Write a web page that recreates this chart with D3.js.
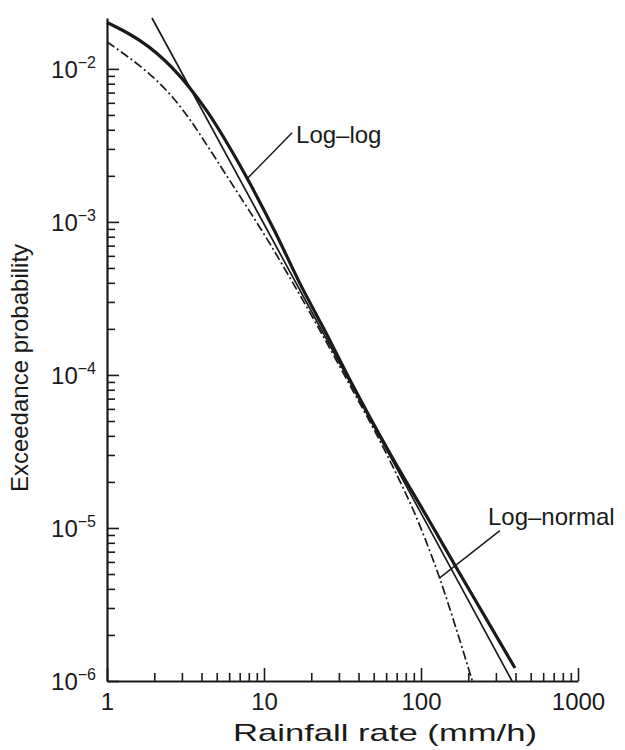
<!DOCTYPE html>
<html><head><meta charset="utf-8">
<script src="https://cdn.jsdelivr.net/npm/d3@7"></script>
<style>
body{margin:0;background:#fff}
svg{display:block}
text{font-family:"Liberation Sans",Arial,Helvetica,sans-serif;fill:#1a1a1a}
</style>
</head><body>
<svg id="chart" width="625" height="750"></svg>
<script>
// ---- data ----
// thick solid curve
const thickRate = [1.0, 1.2643, 1.6228, 2.0822, 2.633, 3.379, 4.3352, 6.0735, 8.1441, 11.752, 16.959, 24.465, 35.30, 63.47, 114.1, 177.2, 396.9];
const thickProb = [0.02009, 0.01781, 0.01528, 0.01260, 0.01003, 7.48e-3, 5.29e-3, 3.041e-3, 1.780e-3, 8.62e-4, 3.95e-4, 1.937e-4, 9.27e-5, 3.067e-5, 1.094e-5, 5.00e-6, 1.216e-6];
// thin solid curve
const thinRate = [1.934, 10, 100, 380];
const thinProb = [0.0215, 9.69e-4, 1.25e-5, 1.0e-6];
// dash-dot curve (log-normal)
const lognRate = [1.0, 1.2643, 1.6228, 2.0822, 2.633, 3.379, 4.399, 6.0735, 8.1441, 10.92, 14.64, 21.44, 33.79, 59.25, 73.3, 88.7, 105.7, 131.4, 166.3, 212.3];
const lognProb = [0.01499, 0.01266, 0.01043, 8.35e-3, 6.48e-3, 4.65e-3, 3.096e-3, 1.853e-3, 1.163e-3, 7.18e-4, 4.31e-4, 2.17e-4, 9.27e-5, 3.16e-5, 2.027e-5, 1.33e-5, 8.60e-6, 4.71e-6, 2.25e-6, 1.0e-6];

// ticks
const xMajorTicks = [1, 10, 100, 1000];
const xMajorLabels = ["1", "10", "100", "1000"];
const xMinorTicks = [2,3,4,5,6,7,8,9,20,30,40,50,60,70,80,90,200,300,400,500,600,700,800,900];
const yMajorTicks = [1e-2, 1e-3, 1e-4, 1e-5, 1e-6];
const yMajorExponents = ["\u22122", "\u22123", "\u22124", "\u22125", "\u22126"];
const yMinorTicks = [9e-3,8e-3,7e-3,6e-3,5e-3,4e-3,3e-3,2e-3,
                     9e-4,8e-4,7e-4,6e-4,5e-4,4e-4,3e-4,2e-4,
                     9e-5,8e-5,7e-5,6e-5,5e-5,4e-5,3e-5,2e-5,
                     9e-6,8e-6,7e-6,6e-6,5e-6,4e-6,3e-6,2e-6];

// annotations
const annotLabels = ["Log\u2013log", "Log\u2013normal"];
const annotLabelRate = [16.0, 267];
const annotLabelProb = [3.28e-3, 1.05e-5];
const annotFromRate = [7.75, 131];
const annotFromProb = [1.9e-3, 4.7e-6];
const annotToRate = [15.1, 318];
const annotToProb = [3.82e-3, 9.6e-6];

const xTitle = "Rainfall rate (mm/h)";
const yTitle = "Exceedance probability";

// ---- drawing ----
const ink = "#1a1a1a";
const svg = d3.select("#chart");
const x = d3.scaleLog().domain([1, 1000]).range([107, 578]);
const y = d3.scaleLog().domain([1e-6, 0.0215]).range([681, 18]);
const x0 = x(1), yBase = y(1e-6);

// y minor ticks
const gyMin = svg.append("g").attr("transform", `translate(${x0},0)`)
  .call(d3.axisLeft(y).tickValues(yMinorTicks).tickSizeInner(-8).tickSizeOuter(0).tickFormat(() => ""));
gyMin.select(".domain").remove();
// y major
const gy = svg.append("g").attr("transform", `translate(${x0},0)`)
  .call(d3.axisLeft(y).tickValues(yMajorTicks).tickSizeInner(-12).tickSizeOuter(0).tickPadding(11).tickFormat(() => ""));
gy.selectAll(".tick text").each(function(d, i) {
  const t = d3.select(this).attr("font-size", 24).attr("dy", "0.35em").attr("fill", ink);
  t.append("tspan").text("10");
  t.append("tspan").attr("dy", -10).attr("font-size", 16).text(yMajorExponents[i]);
});

// x minor
const gxMin = svg.append("g").attr("transform", `translate(0,${yBase})`)
  .call(d3.axisBottom(x).tickValues(xMinorTicks).tickSizeInner(-8).tickSizeOuter(0).tickFormat(() => ""));
gxMin.select(".domain").remove();
// x major
const gx = svg.append("g").attr("transform", `translate(0,${yBase})`)
  .call(d3.axisBottom(x).tickValues(xMajorTicks).tickSizeInner(-13).tickSizeOuter(0).tickPadding(12)
    .tickFormat((d, i) => xMajorLabels[i]));
gx.selectAll(".tick text").attr("font-size", 24).attr("fill", ink);

svg.selectAll(".domain").attr("stroke", ink).attr("stroke-width", 2.2);
svg.selectAll(".tick line").attr("stroke", ink).attr("stroke-width", 1.6);
svg.selectAll(".tick text").attr("font-family", null);

// titles
svg.append("text").attr("x", 385).attr("y", 741)
  .attr("text-anchor", "middle").attr("font-size", 24)
  .attr("textLength", 304).attr("lengthAdjust", "spacingAndGlyphs").text(xTitle);
svg.append("text").attr("transform", `translate(28,${368}) rotate(-90)`)
  .attr("text-anchor", "middle").attr("font-size", 24).text(yTitle);

// curves
const line = d3.line().x(d => x(d[0])).y(d => y(d[1])).curve(d3.curveMonotoneX);
const zip = (a, b) => a.map((v, i) => [v, b[i]]);
const plot = svg.append("g").attr("fill", "none").attr("stroke", ink).attr("stroke-linecap", "butt");
plot.append("path").attr("d", line(zip(lognRate, lognProb))).attr("stroke-width", 1.7)
  .attr("stroke-dasharray", "9,3,2,3");
plot.append("path").attr("d", line(zip(thinRate, thinProb))).attr("stroke-width", 1.7);
plot.append("path").attr("d", line(zip(thickRate, thickProb))).attr("stroke-width", 3.2);

// annotations
annotLabels.forEach((lab, i) => {
  svg.append("line")
    .attr("x1", x(annotFromRate[i])).attr("y1", y(annotFromProb[i]))
    .attr("x2", x(annotToRate[i])).attr("y2", y(annotToProb[i]))
    .attr("stroke", ink).attr("stroke-width", 1.5);
  svg.append("text").attr("x", x(annotLabelRate[i])).attr("y", y(annotLabelProb[i]))
    .attr("font-size", 24).text(lab);
});
</script>
</body></html>
